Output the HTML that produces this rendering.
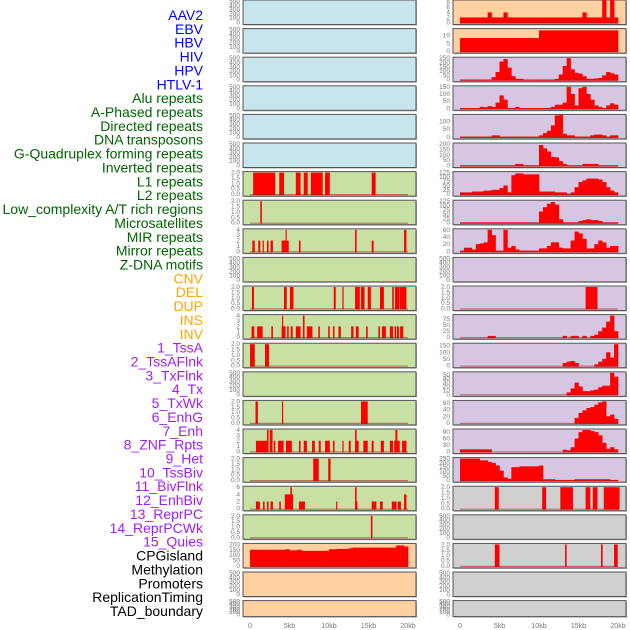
<!DOCTYPE html>
<html><head><meta charset="utf-8">
<style>
body{margin:0;background:#fff;width:630px;height:630px;overflow:hidden}
svg{display:block}
text{font-family:"Liberation Sans",sans-serif}
</style></head>
<body>
<svg id="chart" width="630" height="630"></svg>
<script>
// ---------- labels ----------
const labelText = ["AAV2","EBV","HBV","HIV","HPV","HTLV-1","Alu repeats","A-Phased repeats","Directed repeats","DNA transposons","G-Quadruplex forming repeats","Inverted repeats","L1 repeats","L2 repeats","Low_complexity A/T rich regions","Microsatellites","MIR repeats","Mirror repeats","Z-DNA motifs","CNV","DEL","DUP","INS","INV","1_TssA","2_TssAFlnk","3_TxFlnk","4_Tx","5_TxWk","6_EnhG","7_Enh","8_ZNF_Rpts","9_Het","10_TssBiv","11_BivFlnk","12_EnhBiv","13_ReprPC","14_ReprPCWk","15_Quies","CPGisland","Methylation","Promoters","ReplicationTiming","TAD_boundary"];
const labelGroup = [0,0,0,0,0,0,1,1,1,1,1,1,1,1,1,1,1,1,1,2,2,2,2,2,3,3,3,3,3,3,3,3,3,3,3,3,3,3,3,4,4,4,4,4];
const groupColors = ["#0000ff","#006400","#ffa500","#a020f0","#000000"];
const xTickLabels = ["0","5kb","10kb","15kb","20kb"];
const xTickValues = [0,5,10,15,20];

// ---------- panel config ----------
const leftBg = ["b","b","b","b","b","b","g","g","g","g","g","g","g","g","g","g","g","g","g","p","p","p"];
const rightBg = ["p","p","l","l","l","l","l","l","l","l","l","l","l","l","l","l","l","y","y","y","y","y"];
const leftMax = [500,500,500,500,500,500,2,2,4,500,2,4,2,500,2,4,2,6,2,200,500,500];
const rightMax = [8.5,14,250,150,140,200,125,125,60,500,2,90,160,55,65,100,250,2,500,2,500,500];
const leftTicks = [[0,100,200,300,400,500],[0,100,200,300,400,500],[0,100,200,300,400,500],[0,100,200,300,400,500],[0,100,200,300,400,500],[0,100,200,300,400,500],["0.0","0.5","1.0","1.5","2.0"],["0.0","0.5","1.0","1.5","2.0"],[0,1,2,3,4],[0,100,200,300,400,500],["0.0","0.5","1.0","1.5","2.0"],[0,1,2,3,4],["0.0","0.5","1.0","1.5","2.0"],[0,100,200,300,400,500],["0.0","0.5","1.0","1.5","2.0"],[0,1,2,3,4],["0.0","0.5","1.0","1.5","2.0"],[0,2,4,6],["0.0","0.5","1.0","1.5","2.0"],[0,50,100,150,200],[0,100,200,300,400,500],[0,100,200,300,400,500]];
const rightTicks = [[0,2,4,6,8],[0,5,10],[0,50,100,150,200,250],[0,50,100,150],[0,50,100],[0,50,100,150,200],[0,25,50,75,100,125],[0,25,50,75,100,125],[0,20,40,60],[0,100,200,300,400,500],["0.0","0.5","1.0","1.5","2.0"],[0,25,50,75],[0,50,100,150],[0,10,20,30,40,50],[0,20,40,60],[0,30,60,90],[0,50,100,150,200,250],["0.0","0.5","1.0","1.5","2.0"],[0,100,200,300,400,500],["0.0","0.5","1.0","1.5","2.0"],[0,100,200,300,400,500],[0,100,200,300,400,500]];

// ---------- interval data [startKb, endKb, height] ----------
const L6 = [[0.4,3.2,2],[3.7,4.3,2],[5.8,6.4,2],[6.8,7.3,2],[7.7,9.2,2],[9.5,10.1,2],[15.4,15.9,2]];
const L7 = [[1.3,1.5,2]];
const L8 = [[0.3,0.6,2],[1.05,1.3,2],[1.6,1.75,2],[2.15,2.35,2],[2.6,2.9,2],[4.0,4.9,2],[4.5,4.65,4],[6.2,6.4,2],[13.3,13.5,4],[15.4,15.65,2],[19.5,19.8,4]];
const L10 = [[0.25,0.5,2],[4.3,4.65,2],[5.05,5.5,2],[10.6,10.85,2],[11.7,11.85,2],[13.3,13.9,2],[14.05,14.5,2],[14.9,15.3,2],[16.45,16.95,2],[18.0,18.2,2],[18.35,18.9,2],[18.95,19.8,2]];
const L11 = [[0.2,0.55,2],[0.9,1.6,2],[2.7,2.9,2],[4.0,4.5,2],[4.05,4.2,4],[4.7,4.9,2],[5.15,5.4,2],[5.8,6.4,2],[6.7,6.9,2],[6.7,6.9,4],[7.2,7.9,2],[8.65,8.85,2],[9.9,10.1,2],[10.5,10.7,2],[11.2,11.5,2],[12.8,13.1,2],[13.4,13.75,2],[14.7,14.9,2],[16.25,16.45,2],[16.7,17.2,2],[17.7,18.1,2],[18.3,18.5,2],[18.6,18.85,2],[19.0,19.4,2]];
const L12 = [[0,0.6,2],[1.9,2.4,2]];
const L14 = [[0.7,1.0,2],[4.05,4.2,2],[14.05,14.9,2]];
const L15 = [[0.75,2.15,2],[2.15,2.35,4],[2.5,2.85,4],[3.0,3.2,2],[3.55,4.25,2],[4.55,5.3,2],[6.2,6.4,2],[6.8,7.2,2],[7.85,8.2,2],[8.7,8.95,2],[9.5,10.1,2],[10.5,10.7,2],[11.7,11.85,2],[12.5,12.75,2],[13.3,13.75,2],[13.3,13.5,4],[14.35,14.9,2],[15.4,15.65,2],[16.55,16.95,2],[17.7,18.1,2],[18.25,18.95,2],[18.4,18.65,4],[19.25,19.8,2]];
const L16 = [[8.0,8.7,2],[9.9,10.2,2]];
const L17 = [[0.75,1.25,2],[1.65,1.85,2],[2.15,2.35,2],[2.6,2.9,2],[3.7,3.9,2],[4.4,5.45,4],[5.1,5.3,6],[6.2,6.95,2],[10.9,11.05,2],[13.3,13.6,2],[13.3,13.5,6],[15.4,16.0,2],[16.45,16.8,2],[17.95,18.55,2],[18.7,19.1,2],[19.5,19.8,4]];
const L18 = [[15.3,15.5,2]];
const R10 = [[15.9,17.4,2]];
const R17 = [[4.4,4.9,2],[10.4,10.9,2],[12.7,14.3,2],[15.9,16.5,2],[16.8,17.4,2],[18.2,20.2,2]];
const R19 = [[4.4,5.0,2],[13.3,13.5,2],[17.85,18.06,2],[19.5,19.96,2]];

// ---------- histogram data (40 bins of 0.5 kb) ----------
const L19 = [150,150,150,150,150,150,150,150,150,155,145,145,150,140,140,140,140,140,140,140,155,155,158,158,158,165,170,170,170,170,170,170,170,170,170,170,170,190,190,180];
const R0 = [2,2,2,2,2,2,2,4,2,2,2,4,2,2,2,2,2,2,2,2,2,2,2,2,2,2,2,2,2,2,2,4,2,2,2,2,9,2,9,2];
const R1 = [8.5,8.5,8.5,8.5,8.5,8.5,8.5,8.5,8.5,8.5,8.5,8.5,8.5,8.5,8.5,8.5,8.5,8.5,8.5,8.5,13.5,13.5,13.5,13.5,13.5,13.5,13.5,13.5,13.5,13.5,13.5,13.5,13.5,13.5,13.5,13.5,13.5,13.5,13.5,13.5];
const R2 = [2,2,2,2,2,2,2,2,30,90,210,240,140,40,10,10,2,2,2,2,2,2,2,2,10,60,160,250,120,80,70,40,10,10,15,20,50,90,75,60];
const R3 = [2,2,2,2,2,10,8,15,10,40,90,60,2,2,10,2,2,2,2,2,2,2,2,10,25,25,40,150,100,20,140,150,100,60,20,10,2,20,35,25];
const R4 = [2,2,2,2,2,2,2,2,10,10,2,2,2,2,2,2,2,2,2,2,10,25,40,75,140,145,20,10,10,2,2,2,2,10,15,15,10,2,10,10];
const R5 = [2,2,2,2,2,2,2,2,2,2,2,2,2,2,15,15,2,2,2,2,190,160,130,80,75,40,15,2,2,2,2,15,15,15,15,2,2,2,2,2];
const R6 = [10,10,10,15,15,15,20,20,25,25,35,50,10,110,120,120,115,115,115,115,15,15,15,15,10,10,10,2,10,40,70,80,90,90,90,85,70,40,20,10];
const R7 = [2,2,2,2,2,2,2,2,2,2,2,2,2,2,2,2,2,2,2,2,65,90,110,120,105,20,2,2,2,2,10,15,20,15,15,10,2,2,2,2];
const R8 = [2,10,10,5,20,22,25,60,45,2,2,60,10,15,5,2,2,2,2,2,8,8,15,25,25,10,8,8,30,55,50,35,8,8,20,30,25,10,15,15];
const R11 = [0,0,0,0,0,0,0,5,5,0,0,0,0,0,0,0,0,0,0,0,0,0,0,0,0,0,5,0,5,5,0,5,0,5,10,25,40,65,90,25];
const R12 = [0,0,0,0,0,0,0,0,0,0,0,0,0,0,0,0,0,0,0,0,0,0,0,0,0,0,20,30,35,20,0,0,0,0,10,30,50,100,60,160];
const R13 = [0,0,0,0,0,0,0,0,0,0,0,0,0,0,0,0,0,0,0,0,0,0,0,0,0,0,0,5,15,30,20,8,8,10,12,18,22,22,55,45];
const R14 = [0,0,0,0,0,0,0,0,0,0,0,0,0,0,0,0,0,0,0,0,0,0,0,0,0,0,0,0,0,15,30,38,45,48,55,62,65,20,25,12];
const R15 = [10,10,10,10,10,10,10,10,0,0,0,0,0,0,0,0,0,0,0,0,0,0,0,0,0,0,8,5,20,60,90,100,100,95,90,75,40,12,20,10];
const R16 = [250,250,250,250,250,230,230,210,200,170,110,30,15,150,150,160,160,160,160,160,170,10,10,10,2,2,2,2,2,10,10,10,10,10,10,10,10,10,2,2];

const leftData = [null,null,null,null,null,null,L6,L7,L8,null,L10,L11,L12,null,L14,L15,L16,L17,L18,L19,null,null];
const rightData = [R0,R1,R2,R3,R4,R5,R6,R7,R8,null,R10,R11,R12,R13,R14,R15,R16,R17,null,R19,null,null];

// ---------- drawing ----------
const NS = "http://www.w3.org/2000/svg";
const svg = document.getElementById("chart");
const bgColors = {b:"#c8e4ec", g:"#c8e0a4", p:"#ffd0a0", l:"#d6c6e2", y:"#d0d0d0"};
function mk(tag, attrs, parent){ const e=document.createElementNS(NS,tag); for(const k in attrs) e.setAttribute(k,attrs[k]); (parent||svg).appendChild(e); return e; }

// labels
labelText.forEach((t,i)=>{
  const el = mk("text",{x:203,y:15+i*13.86+5,"text-anchor":"end","font-size":"14",fill:groupColors[labelGroup[i]]});
  el.textContent = t;
  
  
});

const KB = 7.9;
const nPanels = 22;
function panelTop(i){ return i*28.6; }
function panelH(i){ return i===nPanels-1 ? 16 : 24.5; }

function drawPanel(col, i){
  const fx = col===0 ? 243 : 453;
  const x0 = col===0 ? 250 : 460;
  const fw = 173;
  const top = panelTop(i), h = panelH(i);
  const bg = col===0 ? leftBg[i] : rightBg[i];
  const ymax = col===0 ? leftMax[i] : rightMax[i];
  const ticks = col===0 ? leftTicks[i] : rightTicks[i];
  const data = col===0 ? leftData[i] : rightData[i];
  const xs = kb => x0 + kb*KB;
  const ys = v => top + 1 + (1 - v/ymax)*(h-3);
  const g = mk("g",{});
  
  
  mk("rect",{x:fx+1,y:top+1,width:fw,height:h,fill:"#aaa"},g);
  mk("rect",{x:fx,y:top,width:fw,height:h,fill:bgColors[bg],stroke:"#555","stroke-width":1},g);
  const cid = "c"+col+"_"+i;
  const cp = mk("clipPath",{id:cid},g);
  mk("rect",{x:fx,y:top,width:fw,height:h},cp);
  const inner = mk("g",{"clip-path":"url(#"+cid+")"},g);
  // ticks
  const tickMax = parseFloat(ticks[ticks.length-1]);
  ticks.forEach(t=>{
    const v = parseFloat(t);
    const tl = mk("text",{x:fx-3,y:ys(v*ymax/ (ymax)) + 2,"text-anchor":"end","font-size":"6.5",fill:"#777"},g);
    tl.textContent = t;
    
    
  });
  if(data){
    if(Array.isArray(data[0])){
      data.forEach(d=>{
        const r = mk("rect",{x:xs(d[0]),y:ys(d[2]),width:Math.max(1,xs(d[1])-xs(d[0])),height:ys(0)-ys(d[2])+1,fill:"#ff0000"},inner);
        
        
      });
    } else {
      data.forEach((v,k)=>{
        if(v<=0) return;
        const r = mk("rect",{x:xs(k*0.5),y:ys(v),width:0.5*KB+0.3,height:ys(0)-ys(v)+1,fill:"#ff0000"},inner);
        
        
      });
    }
    mk("line",{x1:xs(0),x2:xs(20),y1:ys(0)+0.5,y2:ys(0)+0.5,stroke:"rgba(170,30,30,0.55)","stroke-width":1.2},inner);
  }
}
for(let i=0;i<nPanels;i++){ drawPanel(0,i); drawPanel(1,i); }

// x axes
[250,460].forEach((x0,c)=>{
  xTickValues.forEach((v,k)=>{
    const t = mk("text",{x:x0+v*KB,y:628,"text-anchor":"middle","font-size":"7",fill:"#777"});
    t.textContent = xTickLabels[k];
    
    
  });
});
</script>
</body></html>
